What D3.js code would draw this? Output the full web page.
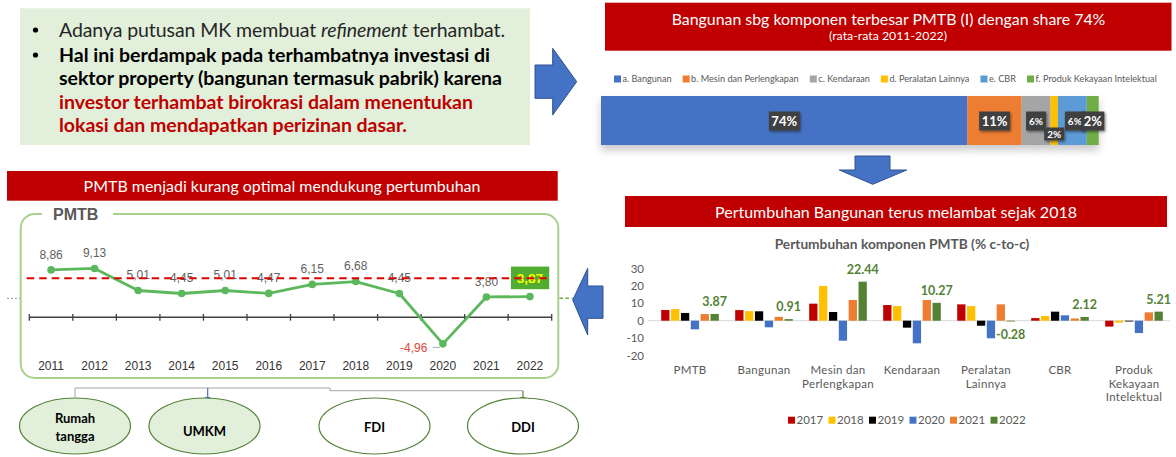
<!DOCTYPE html>
<html><head><meta charset="utf-8">
<script src="https://cdn.jsdelivr.net/npm/d3@7"></script>
<style>html,body{margin:0;padding:0;background:#fff;}svg{display:block;}</style>
</head><body>
<svg id="c" width="1176" height="457"></svg>
<script>
// ---------------- DATA ----------------
const introLine1 = ["Adanya putusan MK membuat ", "refinement", " terhambat."];
const introBold = ["Hal ini berdampak pada terhambatnya investasi di", "sektor property (bangunan termasuk pabrik) karena"];
const introRed = ["investor terhambat birokrasi dalam menentukan", "lokasi dan mendapatkan perizinan dasar."];

const shareTitle = "Bangunan sbg komponen terbesar PMTB (I) dengan share 74%";
const shareSubtitle = "(rata-rata 2011-2022)";
const shareComponents = ["a. Bangunan", "b. Mesin dan Perlengkapan", "c. Kendaraan", "d. Peralatan Lainnya", "e. CBR", "f. Produk Kekayaan Intelektual"];
const shareValues = [73.7, 10.9, 5.8, 1.5, 5.8, 2.4];

const lineBanner = "PMTB menjadi kurang optimal mendukung pertumbuhan";
const lineTitle = "PMTB";
const lineYears = ["2011","2012","2013","2014","2015","2016","2017","2018","2019","2020","2021","2022"];
const pmtbGrowth = [8.86, 9.13, 5.01, 4.45, 5.01, 4.47, 6.15, 6.68, 4.45, -4.96, 3.80, 3.87];
const pmtbRefLine = 7.3;

const barBanner = "Pertumbuhan Bangunan terus melambat sejak 2018";
const barTitle = "Pertumbuhan komponen PMTB (% c-to-c)";
const barCategories = ["PMTB", "Bangunan", "Mesin dan Perlengkapan", "Kendaraan", "Peralatan Lainnya", "CBR", "Produk Kekayaan Intelektual"];
const barCategoryLines = [["PMTB"], ["Bangunan"], ["Mesin dan", "Perlengkapan"], ["Kendaraan"], ["Peralatan", "Lainnya"], ["CBR"], ["Produk", "Kekayaan", "Intelektual"]];
const barYears = ["2017", "2018", "2019", "2020", "2021", "2022"];
const growth2017 = [6.15, 6.1, 9.8, 9.0, 9.4, 1.5, -3.4];
const growth2018 = [6.68, 5.5, 20.0, 8.4, 8.4, 2.7, -1.1];
const growth2019 = [4.45, 5.4, 5.0, -4.0, -2.9, 5.2, -0.2];
const growth2020 = [-4.96, -3.8, -11.5, -13.0, -10.1, 3.1, -7.1];
const growth2021 = [3.80, 2.2, 11.9, 11.9, 9.4, 1.3, 4.8];
const growth2022 = [3.87, 0.91, 22.44, 10.27, -0.28, 2.12, 5.21];
const barTicks = [30, 20, 10, 0, -10, -20];

const channels = [["Rumah", "tangga"], ["UMKM"], ["FDI"], ["DDI"]];

// ---------------- STYLES ----------------
const F = "Lato, 'Noto Sans', sans-serif";
const FA = "'Liberation Sans', Arial, sans-serif";
const shareColors = ["#4472c4", "#ed7d31", "#a5a5a5", "#ffc000", "#5b9bd5", "#70ad47"];
const shareLabelStyle = [{fs:13,dy:0,h:19},{fs:13,dy:0,h:19},{fs:10,dy:0,h:19},{fs:10,dy:13,h:13},{fs:10,dy:0,h:19},{fs:13,dy:0,h:19}];
const yearColors = ["#c00000", "#ffc000", "#000000", "#4472c4", "#ed7d31", "#548235"];
const barSeries = [growth2017, growth2018, growth2019, growth2020, growth2021, growth2022];

const svg = d3.select("#c");
const defs = svg.append("defs");
defs.append("filter").attr("id","barShadow").attr("x","-5%").attr("y","-30%").attr("width","110%").attr("height","190%")
  .append("feDropShadow").attr("dx",0).attr("dy",5).attr("stdDeviation",4).attr("flood-color","#000").attr("flood-opacity",0.22);
defs.append("filter").attr("id","lblShadow").attr("x","-30%").attr("y","-30%").attr("width","170%").attr("height","170%")
  .append("feDropShadow").attr("dx",1.2).attr("dy",1.5).attr("stdDeviation",1).attr("flood-color","#000").attr("flood-opacity",0.45);
["blueHead","greenHead"].forEach((id,i)=>{
  defs.append("marker").attr("id",id).attr("viewBox","0 0 10 10").attr("refX",9).attr("refY",5)
    .attr("markerWidth",5).attr("markerHeight",5).attr("orient","auto")
    .append("path").attr("d","M0,0L10,5L0,10z").attr("fill", i?"#548235":"#4472c4");
});

function fitWidth(sel, w){
  const cur = sel.node().getComputedTextLength();
  sel.attr("font-size", (+sel.attr("font-size")) * w / cur);
  return sel;
}
function banner(x0,x1,y0,y1){
  svg.append("rect").attr("x",x0).attr("y",y0).attr("width",x1-x0).attr("height",y1-y0).attr("fill","#c00000");
}
function arrow(pts){
  svg.append("polygon").attr("points", pts.map(p=>p.join(",")).join(" "))
    .attr("fill","#4472c4").attr("stroke","#2f528f").attr("stroke-width",1);
}
const hy = s => s.replace("\u2212", "-");

// ---------------- TOP LEFT TEXT BOX ----------------
svg.append("rect").attr("x",20).attr("y",8.3).attr("width",510).attr("height",136.7).attr("fill","#e2efda");
const lineYs = [30, 55, 77.7, 101.7, 125];
const lineWidths = [446, 431, 443, 414, 348];
const probe = svg.append("text").attr("font-family",F).attr("font-weight","bold").attr("font-size",20).text(introBold[0]);
const baseFs = 20 * lineWidths[1] / probe.node().getComputedTextLength();
probe.remove();
const introAll = [introLine1, [introBold[0]], [introBold[1]], [introRed[0]], [introRed[1]]];
introAll.forEach((parts, i) => {
  const t = svg.append("text").attr("x",59).attr("y",lineYs[i]).attr("dy","0.35em")
    .attr("font-family",F).attr("font-size",baseFs).style("white-space","pre")
    .attr("font-weight", i===0 ? "normal" : "bold")
    .attr("fill", i===0 ? "#262626" : (i<3 ? "#000000" : "#c00000"));
  parts.forEach((p, j) => {
    t.append("tspan").attr("font-style", (i===0 && j===1) ? "italic" : "normal").text(p);
  });
  t.attr("textLength", lineWidths[i]).attr("lengthAdjust","spacing");
});
[0,1].forEach(i => svg.append("circle").attr("cx",35.5).attr("cy",lineYs[i]).attr("r",2.6).attr("fill","#000"));
arrow([[535,65],[552.7,65],[552.7,48.3],[576.7,81.7],[552.7,115],[552.7,98.3],[535,98.3]]);

// ---------------- TOP RIGHT SHARE BAR ----------------
banner(605, 1171.5, 2.7, 50.7);
fitWidth(svg.append("text").attr("x",888.5).attr("y",19).attr("dy","0.35em").attr("text-anchor","middle")
  .attr("font-family",F).attr("font-size",16).attr("fill","#fff").text(shareTitle), 434);
fitWidth(svg.append("text").attr("x",888).attr("y",35.5).attr("dy","0.35em").attr("text-anchor","middle")
  .attr("font-family",F).attr("font-size",11).attr("fill","#fff").text(shareSubtitle), 118);

{
  const lg = svg.append("g");
  const sq = 7, gapOut = 11;
  const items = shareComponents.map((c, i) => {
    const t = lg.append("text").attr("y",79).attr("dy","0.35em").attr("font-family",F)
      .attr("font-size",10).attr("fill","#595959").text(c);
    return {t, w: t.node().getComputedTextLength(), i};
  });
  const fixed = items.length*8.5 + (items.length-1)*gapOut;
  const totW = d3.sum(items, d=>d.w);
  const fs = 10 * (1157 - 614 - fixed) / totW;
  let lx = 614;
  items.forEach(d => {
    lg.append("rect").attr("x",lx).attr("y",75.5).attr("width",sq).attr("height",sq).attr("fill",shareColors[d.i]);
    d.t.attr("x",lx+8.5).attr("font-size",fs);
    lx += 8.5 + d.w*fs/10 + gapOut;
  });
}
const xS = d3.scaleLinear().domain([0, d3.sum(shareValues)]).range([601, 1098.7]);
const cum = d3.cumsum(shareValues);
const starts = shareValues.map((v,i)=> cum[i]-v);
const sg = svg.append("g").attr("filter","url(#barShadow)");
shareValues.forEach((v,i)=>{
  sg.append("rect").attr("x",xS(starts[i])).attr("y",96).attr("width",xS(cum[i])-xS(starts[i])).attr("height",49)
    .attr("fill",shareColors[i]);
});
shareValues.forEach((v,i)=>{
  const st = shareLabelStyle[i];
  const cx = (xS(starts[i])+xS(cum[i]))/2 + (i===4?2.5:0);
  const cy = 121 + st.dy;
  const g = svg.append("g");
  const r = g.append("rect").attr("fill","#404040").attr("filter","url(#lblShadow)");
  const t = g.append("text").attr("x",cx).attr("y",cy).attr("dy","0.35em").attr("text-anchor","middle")
    .attr("font-family",F).attr("font-weight","bold").attr("font-size",st.fs).attr("fill","#fff")
    .text(Math.round(v)+"%");
  const w = t.node().getComputedTextLength() + (st.fs>11?5:6);
  r.attr("x",cx-w/2).attr("y",cy-st.h/2).attr("width",w).attr("height",st.h);
});
arrow([[855,156],[890,156],[890,170],[906.7,170],[872.7,184.3],[839.3,170],[855,170]]);

// ---------------- LEFT LINE CHART ----------------
banner(7, 557.7, 171, 200.7);
fitWidth(svg.append("text").attr("x",282).attr("y",186.5).attr("dy","0.35em").attr("text-anchor","middle")
  .attr("font-family",F).attr("font-size",16).attr("fill","#fff").text(lineBanner), 397);

svg.append("rect").attr("x",20.7).attr("y",214).attr("width",537.6).attr("height",164).attr("rx",14)
  .attr("fill","none").attr("stroke","#a9d18e").attr("stroke-width",2);
svg.append("rect").attr("x",42).attr("y",207).attr("width",71).attr("height",14).attr("fill","#fff");
svg.append("text").attr("x",53).attr("y",214.5).attr("dy","0.35em").attr("font-family",FA).attr("font-weight","bold")
  .attr("font-size",16).attr("fill","#595959").text(lineTitle);
svg.append("line").attr("x1",7).attr("x2",20).attr("y1",298.3).attr("y2",298.3).attr("stroke","#a6a6a6")
  .attr("stroke-width",1.2).attr("stroke-dasharray","2,2");
svg.append("line").attr("x1",559.5).attr("x2",572.5).attr("y1",298.3).attr("y2",298.3).attr("stroke","#70ad47")
  .attr("stroke-width",1.6).attr("stroke-dasharray","3.5,2.5");
arrow([[572.7,300],[587.7,268.3],[587.7,286],[603,286],[603,318.3],[587.7,318.3],[587.7,335]]);

const xL = d3.scaleBand().domain(lineYears).range([29.3, 551.7]);
const yL = d3.scaleLinear().domain([-5, 10]).range([317.3 + 5*5.35, 317.3 - 10*5.35]);
const lg2 = svg.append("g");
lg2.append("line").attr("x1",xL.range()[0]).attr("x2",xL.range()[1]).attr("y1",yL(0)).attr("y2",yL(0))
  .attr("stroke","#404040").attr("stroke-width",1.4);
lineYears.concat(["end"]).forEach((d,i)=>{
  const x = xL.range()[0] + i*xL.step();
  lg2.append("line").attr("x1",x).attr("x2",x).attr("y1",yL(0)-3.3).attr("y2",yL(0)+3.4)
    .attr("stroke","#404040").attr("stroke-width",1.3);
});
lineYears.forEach(d=>{
  lg2.append("text").attr("x",xL(d)+xL.bandwidth()/2).attr("y",366).attr("dy","0.35em").attr("text-anchor","middle")
    .attr("font-family",FA).attr("font-size",12).attr("fill","#333").text(d);
});
const fmt = v => hy(d3.format(".2f")(v)).replace(".", ",");
const pts = lineYears.map((d,i)=>({x:xL(d)+xL.bandwidth()/2, y:yL(pmtbGrowth[i]), v:pmtbGrowth[i], i}));
lg2.append("path").attr("d", d3.line().x(p=>p.x).y(p=>p.y)(pts)).attr("fill","none")
  .attr("stroke","#5cb85c").attr("stroke-width",2.8).attr("stroke-linejoin","round");
lg2.selectAll(".pt").data(pts).join("circle").attr("cx",p=>p.x).attr("cy",p=>p.y).attr("r",3.8).attr("fill","#5cb85c");
pts.forEach(p=>{
  if (p.i === pts.length-1) {
    lg2.append("rect").attr("x",p.x-19).attr("y",p.y-30).attr("width",38.3).attr("height",22.6).attr("fill","#50ad32");
    lg2.append("text").attr("x",p.x).attr("y",p.y-18.7).attr("dy","0.35em").attr("text-anchor","middle")
      .attr("font-family",FA).attr("font-weight","bold").attr("font-size",13.5).attr("fill","#ffff00").text(fmt(p.v));
  } else if (p.v < 0) {
    lg2.append("text").attr("x",p.x-15.5).attr("y",p.y+4).attr("dy","0.35em").attr("text-anchor","end")
      .attr("font-family",FA).attr("font-size",12).attr("fill","#e0443c").text(fmt(p.v));
    lg2.append("line").attr("x1",p.x-10).attr("x2",p.x-3).attr("y1",p.y+3.5).attr("y2",p.y+3.5).attr("stroke","#a6a6a6").attr("stroke-width",1);
  } else {
    lg2.append("text").attr("x",p.x).attr("y",p.y-15.5).attr("dy","0.35em").attr("text-anchor","middle")
      .attr("font-family",FA).attr("font-size",12).attr("fill","#5f5f5f").text(fmt(p.v));
  }
});
lg2.append("line").attr("x1",26.7).attr("x2",546.7).attr("y1",yL(pmtbRefLine)).attr("y2",yL(pmtbRefLine))
  .attr("stroke","#e00000").attr("stroke-width",2.2).attr("stroke-dasharray","7.5,5");

// connectors + ovals
svg.append("path").attr("d","M75,397V388H330V390.7H523").attr("fill","none").attr("stroke","#a6a6a6").attr("stroke-width",1);
svg.append("line").attr("x1",523).attr("x2",523).attr("y1",390.7).attr("y2",402).attr("stroke","#548235").attr("stroke-width",1.2).attr("marker-end","url(#greenHead)");
svg.append("line").attr("x1",207.7).attr("x2",207.7).attr("y1",388).attr("y2",402).attr("stroke","#4472c4").attr("stroke-width",1.2).attr("marker-end","url(#blueHead)");
const ovalCx = [75, 204.5, 374.5, 523];
const ovalFill = ["#e2efda", "#e2efda", "#ffffff", "#ffffff"];
channels.forEach((lines, i)=>{
  svg.append("ellipse").attr("cx",ovalCx[i]).attr("cy",426).attr("rx",55.5).attr("ry",28)
    .attr("fill",ovalFill[i]).attr("stroke","#538135").attr("stroke-width",1.2);
  const cy = lines.length===2 ? [418, 436.7] : [i===1 ? 431 : 427];
  lines.forEach((l,k)=>{
    svg.append("text").attr("x",ovalCx[i]).attr("y",cy[k]).attr("dy","0.35em").attr("text-anchor","middle")
      .attr("font-family",F).attr("font-weight","bold").attr("font-size",13).attr("fill","#000").text(l);
  });
});

// ---------------- BOTTOM RIGHT BAR CHART ----------------
banner(625, 1167, 196, 227);
fitWidth(svg.append("text").attr("x",896).attr("y",212).attr("dy","0.35em").attr("text-anchor","middle")
  .attr("font-family",F).attr("font-size",16).attr("fill","#fff").text(barBanner), 362);
fitWidth(svg.append("text").attr("x",902).attr("y",244.5).attr("dy","0.35em").attr("text-anchor","middle")
  .attr("font-family",F).attr("font-weight","bold").attr("font-size",14).attr("fill","#595959").text(barTitle), 255);

const xB = d3.scaleBand().domain(barCategories).range([653, 1171]).paddingInner(0.2).paddingOuter(0.1);
const xIn = d3.scaleBand().domain(barYears).range([0, xB.bandwidth()]).paddingInner(0.16).paddingOuter(0.08);
const yB = d3.scaleLinear().domain([-20, 30]).range([355.5, 268.5]);

const yAx = svg.append("g").attr("transform","translate(647,0)")
  .call(d3.axisLeft(yB).tickValues(barTicks).tickFormat(d => String(d)).tickSize(0).tickPadding(3));
yAx.select(".domain").remove();
yAx.selectAll("text").attr("font-family",F).attr("font-size",11.5).attr("fill","#595959");

svg.append("line").attr("x1",648).attr("x2",1170).attr("y1",yB(0)).attr("y2",yB(0)).attr("stroke","#d9d9d9").attr("stroke-width",1);

const bg = svg.append("g");
barYears.forEach((yr, s)=>{
  barCategories.forEach((c, j)=>{
    const v = barSeries[s][j];
    bg.append("rect").attr("x", xB(c)+xIn(yr)).attr("width", xIn.bandwidth())
      .attr("y", yB(Math.max(0,v))).attr("height", Math.max(0.8, Math.abs(yB(v)-yB(0))))
      .attr("fill", yearColors[s]);
  });
});
barCategories.forEach((c,j)=>{
  const v = growth2022[j];
  const x = xB(c)+xIn("2022")+xIn.bandwidth()/2;
  const y = v >= 0 ? yB(v) - 12.3 : yB(0) + 14;
  bg.append("text").attr("x",x).attr("y",y).attr("dy","0.35em").attr("text-anchor","middle")
    .attr("font-family",F).attr("font-weight","bold").attr("font-size",12.5).attr("fill","#548235")
    .text(hy(d3.format(".2f")(v)));
});
barCategories.forEach((c,j)=>{
  barCategoryLines[j].forEach((l,k)=>{
    svg.append("text").attr("x",xB(c)+xB.bandwidth()/2).attr("y",370+k*13.6).attr("dy","0.35em")
      .attr("text-anchor","middle").attr("font-family",F).attr("font-size",11.5).attr("fill","#595959")
      .attr("letter-spacing",0.3).text(l);
  });
});
barYears.forEach((yr,s)=>{
  const x = 788 + s*40.5;
  svg.append("rect").attr("x",x).attr("y",416.7).attr("width",7).attr("height",7).attr("fill",yearColors[s]);
  svg.append("text").attr("x",x+8.5).attr("y",420.2).attr("dy","0.35em").attr("font-family",F)
    .attr("font-size",11.5).attr("fill","#595959").text(yr);
});
</script>
</body></html>
